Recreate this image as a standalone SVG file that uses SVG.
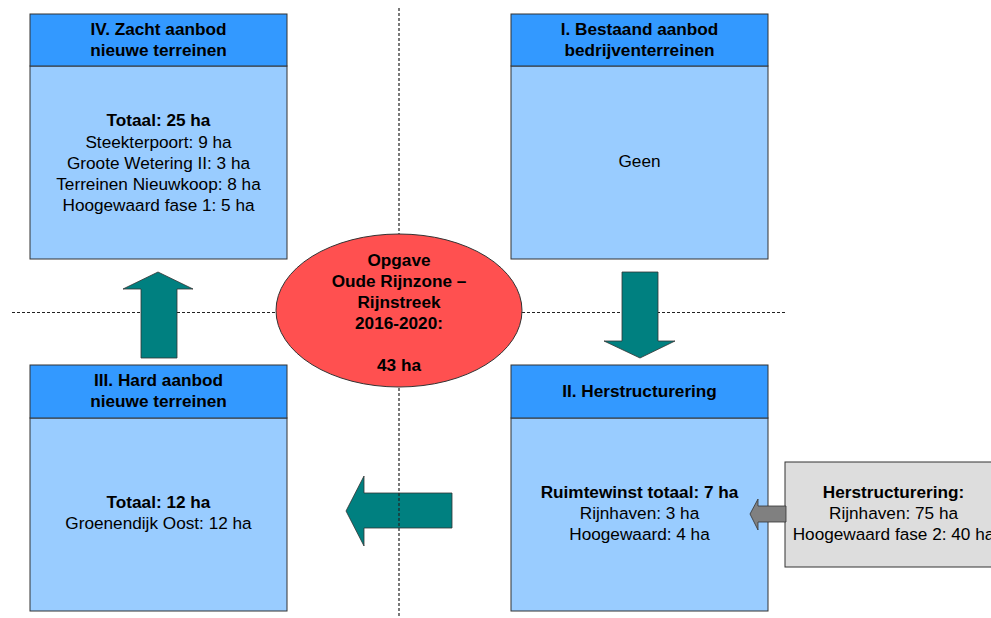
<svg xmlns="http://www.w3.org/2000/svg" width="991" height="618" viewBox="0 0 991 618">
<style>
.hdr{fill:#3399FF;stroke:#333;stroke-width:1}
.body{fill:#99CCFF;stroke:#333;stroke-width:1}
.arr{fill:#008080;stroke:#333;stroke-width:0.8}
.garr{fill:#808080;stroke:#333;stroke-width:0.8}
.dot{stroke:#222;stroke-width:1.2;stroke-dasharray:3 2;fill:none}
text{font-family:"Liberation Sans",Arial,sans-serif;font-size:17.2px;fill:#000;text-anchor:middle}
.b{font-weight:bold}
</style>
<rect width="991" height="618" fill="#fff"/>
<g id="dividers">
<line class="dot" x1="399" y1="8" x2="399" y2="618"/>
<line class="dot" x1="12" y1="312.5" x2="786" y2="312.5"/>
</g>
<g id="center">
<ellipse cx="399" cy="310.5" rx="123" ry="76.5" fill="#FF5050" stroke="#333" stroke-width="1"/>
<text class="b" x="399" y="266">Opgave</text>
<text class="b" x="399" y="287">Oude Rijnzone –</text>
<text class="b" x="399" y="308">Rijnstreek</text>
<text class="b" x="399" y="329">2016-2020:</text>
<text class="b" x="399" y="371">43 ha</text>
</g>
<g id="box-IV">
<rect class="body" x="30" y="66" width="257" height="193"/>
<rect class="hdr" x="30" y="14" width="257" height="52"/>
<text class="b" x="158.5" y="35">IV. Zacht aanbod</text>
<text class="b" x="158.5" y="56">nieuwe terreinen</text>
<text class="b" x="158.5" y="126">Totaal: 25 ha</text>
<text x="158.5" y="148">Steekterpoort: 9 ha</text>
<text x="158.5" y="169">Groote Wetering II: 3 ha</text>
<text x="158.5" y="190">Terreinen Nieuwkoop: 8 ha</text>
<text x="158.5" y="211">Hoogewaard fase 1: 5 ha</text>
</g>
<g id="box-I">
<rect class="body" x="511" y="66" width="257" height="193"/>
<rect class="hdr" x="511" y="14" width="257" height="52"/>
<text class="b" x="639.5" y="35">I. Bestaand aanbod</text>
<text class="b" x="639.5" y="56">bedrijventerreinen</text>
<text x="639.5" y="167">Geen</text>
</g>
<g id="box-III">
<rect class="body" x="30" y="418" width="257" height="193"/>
<rect class="hdr" x="30" y="365" width="257" height="53"/>
<text class="b" x="158.5" y="386">III. Hard aanbod</text>
<text class="b" x="158.5" y="407">nieuwe terreinen</text>
<text class="b" x="158.5" y="508">Totaal: 12 ha</text>
<text x="158.5" y="529">Groenendijk Oost: 12 ha</text>
</g>
<g id="box-II">
<rect class="body" x="511" y="418" width="257" height="193"/>
<rect class="hdr" x="511" y="365" width="257" height="53"/>
<text class="b" x="639.5" y="397">II. Herstructurering</text>
<text class="b" x="639.5" y="498">Ruimtewinst totaal: 7 ha</text>
<text x="639.5" y="519">Rijnhaven: 3 ha</text>
<text x="639.5" y="540">Hoogewaard: 4 ha</text>
</g>
<g id="box-herstructurering">
<rect x="785" y="462" width="220" height="105" fill="#DDDDDD" stroke="#333" stroke-width="1"/>
<text class="b" x="893.5" y="498">Herstructurering:</text>
<text x="893.5" y="519">Rijnhaven: 75 ha</text>
<text x="893.5" y="540">Hoogewaard fase 2: 40 ha</text>
</g>
<g id="connectors">
<polygon id="arrow-left" class="arr" points="346,511 364,476 364,493 452,493 452,528 364,528 364,546"/>
<polygon id="arrow-up" class="arr" points="158,272 193,289 177,289 177,358 141,358 141,289 123,289"/>
<polygon id="arrow-down" class="arr" points="622,272 658,272 658,341 675,341 640,358 604,341 622,341"/>
<polygon id="arrow-grey" class="garr" points="750,514 758,499 758,506 786,506 786,522 758,522 758,530"/>
</g>
<g id="divider-overlay">
<line class="dot" x1="399" y1="493" x2="399" y2="528"/>
</g>
</svg>
